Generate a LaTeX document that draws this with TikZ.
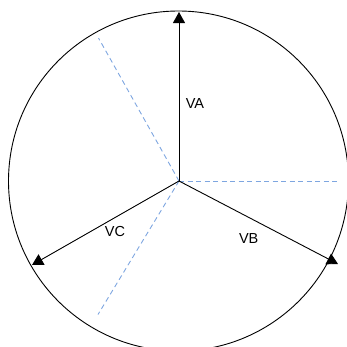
\documentclass[tikz,border=0pt]{standalone}
\usepackage{fontspec}
\setmainfont{Liberation Sans}
\usetikzlibrary{arrows.meta}
\definecolor{dashblue}{HTML}{7EA6E0}
\begin{document}
\begin{tikzpicture}[x=1bp,y=-1bp,
  phasor/.style={draw=black,line width=0.9bp,-{Triangle[length=11bp,width=12bp]}},
  guide/.style={draw=dashblue,line width=0.9bp,dash pattern=on 5bp off 3.5bp},
  lbl/.style={font=\fontsize{14.5bp}{16bp}\selectfont,inner sep=0pt}]
\useasboundingbox (0,0) rectangle (347,347);
\begin{scope}
\clip (0,0) rectangle (347,347);
\draw[line width=0.9bp] (178.5,181) circle[radius=170];
\coordinate (O) at (179,181);
\coordinate (A) at (179,12);
\coordinate (B) at (338,264);
\coordinate (C) at (32,265);
\coordinate (D1) at (98.5,38);
\coordinate (D2) at (98,314.5);
\coordinate (D3) at (340,181);
\draw[guide] (O) -- (D1);
\draw[guide] (O) -- (D2);
\draw[guide] (O) -- (D3);
\draw[phasor] (O) -- (A);
\draw[phasor] (O) -- (B);
\draw[phasor] (O) -- (C);
\node[lbl] (VA) at (195,103.5) {VA};
\node[lbl] (VB) at (248.7,239) {VB};
\node[lbl] (VC) at (115,231.5) {VC};
\end{scope}
\end{tikzpicture}
\end{document}
